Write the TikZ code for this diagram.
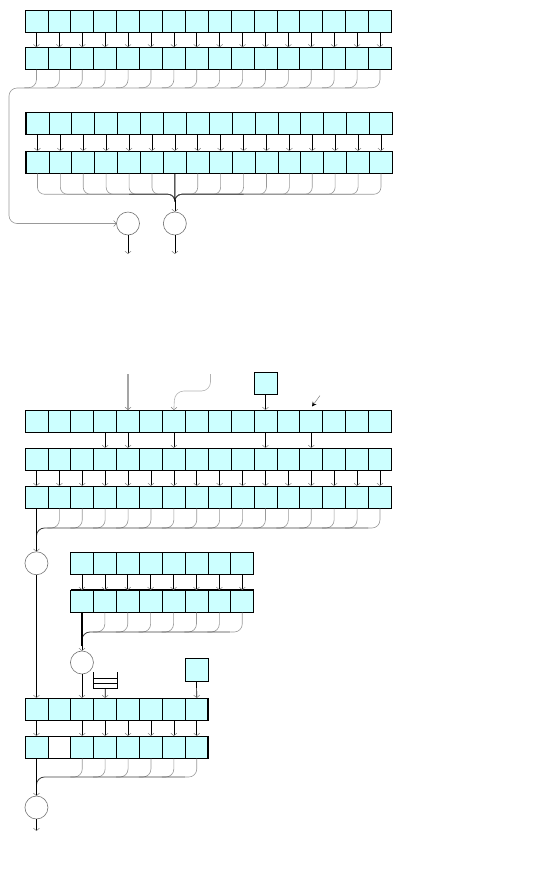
\documentclass[tikz,border=0pt]{standalone}
\usetikzlibrary{arrows.meta}
\definecolor{cellc}{HTML}{CCFFFF}
\begin{document}
\begin{tikzpicture}[x=1pt,y=-1pt,
 cell/.style={draw=black,line width=0.8pt,fill=cellc,minimum width=22.9pt,minimum height=22.5pt,inner sep=0pt,outer sep=0pt},
 blank/.style={cell,fill=white},
 op/.style={circle,draw=black!55,line width=0.6pt,minimum size=23pt,inner sep=0pt,outer sep=0pt},
 arr/.style={line width=0.7pt,-{Straight Barb[length=2.5pt,width=6pt,color=black!50,line width=0.5pt]}},
 flow/.style={draw=black!40,line width=0.6pt,rounded corners=8pt},
 trunkline/.style={draw=black!75,line width=0.8pt,rounded corners=8pt},
 trunk/.style={line width=1.1pt,black},
 thick edge/.style={line width=1.6pt,black},
]
\useasboundingbox (0,0) rectangle (550,879);

% ---------- upper diagram ----------
\foreach \i in {1,...,16}{
  \node[cell] (ta\i) at ({25+22.9*(\i-0.5)},21.25) {};
  \node[cell] (tb\i) at ({25+22.9*(\i-0.5)},58.5) {};
  \node[cell] (tc\i) at ({26+22.9*(\i-0.5)},123.5) {};
  \node[cell] (td\i) at ({26+22.9*(\i-0.5)},162.25) {};
}
\draw[thick edge] (ta1.south west) -- (ta16.south east);
\draw[thick edge] (tc1.north west) -- (tc1.south west);
\draw[thick edge] (td1.north west) -- (td1.south west);
\foreach \i in {1,...,16}{
  \draw[arr] (ta\i.south) -- (tb\i.north);
  \draw[arr] (tc\i.south) -- (td\i.north);
}
\node[op] (t1) at (128,223.5) {};
\node[op] (t2) at (174.85,223.5) {};
\coordinate (tj) at (368,88);
\coordinate (tm) at (174.85,200);
\coordinate (o1) at (128,254);
\coordinate (o2) at (174.85,254);
\foreach \i in {1,...,16}{
  \draw[flow] (tb\i.south) -- ++(0,18) -- ++(-12,0);
}
\draw[flow,-{Straight Barb[length=2.5pt,width=6pt,color=black!50,line width=0.5pt]}] (tj) -- (9,88) -- (9,223.5) -- (t1.west);
\foreach \i in {1,...,6}{
  \draw[flow,rounded corners=7pt] (td\i.south) -- ++(0,20.75) -| (tm);
}
\foreach \i in {8,...,16}{
  \draw[flow,rounded corners=7pt] (td\i.south) -- ++(0,20.75) -| (tm);
}
\draw[trunkline,rounded corners=7pt] (td5.south) ++(0,20.75) -| (tm);
\draw[trunkline,rounded corners=7pt] (td10.south) ++(0,20.75) -| (tm);
\draw[trunk] (td7.south) -- (tm);
\draw[arr] (tm) -- (t2.north);
\draw[arr] (t1.south) -- (o1);
\draw[arr] (t2.south) -- (o2);

% ---------- lower diagram ----------
\foreach \i in {1,...,16}{
  \node[cell] (la\i) at ({25+22.9*(\i-0.5)},421.25) {};
  \node[cell] (lb\i) at ({25+22.9*(\i-0.5)},459.25) {};
  \node[cell] (lc\i) at ({25+22.9*(\i-0.5)},497.25) {};
}
\node[cell] (sq1) at (265.45,383.5) {};
\coordinate (in1) at (128.05,374);
\coordinate (in2) at (210.5,374);
\coordinate (hs) at (320,395.5);
\coordinate (he) at (312,406.5);
\draw[arr] (in1) -- (la5.north);
\draw[flow,rounded corners=9pt,draw=black!30,-{Straight Barb[length=2.5pt,width=6pt,color=black!50,line width=0.5pt]}] (in2) -- (210.5,391) -- (174.85,391) -- (la7.north);
\draw[arr] (sq1.south) -- (la11.north);
\draw[draw=black!50,line width=0.5pt,-{Stealth[length=4.5pt,width=4.5pt,color=black]}] (hs) -- (he);
\foreach \i in {4,5,7,11,13}{
  \draw[arr] (la\i.south) -- (lb\i.north);
}
\foreach \i in {1,...,16}{
  \draw[arr] (lb\i.south) -- (lc\i.north);
}
\node[op] (A) at (36.45,563.25) {};
\coordinate (lj) at (368,528);
\coordinate (am) at (36.45,546);
\foreach \i in {2,...,16}{
  \draw[flow] (lc\i.south) -- ++(0,19.5) -- ++(-12,0);
}
\draw[trunkline] (lj) -- (36.45,528) -- (am);
\draw[trunk] (lc1.south) -- (am);
\draw[arr] (am) -- (A.north);

% block B
\foreach \i in {1,...,8}{
  \node[cell] (ba\i) at ({70.5+22.9*(\i-0.5)},563.25) {};
  \node[cell] (bb\i) at ({70.5+22.9*(\i-0.5)},601.25) {};
}
\draw[thick edge] (bb1.north west) -- (bb8.north east);
\draw[thick edge] (bb1.south west) -- (bb8.south east);
\foreach \i in {1,...,8}{
  \draw[arr] (ba\i.south) -- (bb\i.north);
}
\node[op] (Bc) at (81.95,662.5) {};
\coordinate (bj) at (230,632);
\coordinate (bm) at (81.95,646);
\foreach \i in {2,...,8}{
  \draw[flow] (bb\i.south) -- ++(0,19.5) -- ++(-12,0);
}
\draw[trunkline] (bj) -- (81.95,632) -- (bm);
\draw[trunk] (bb1.south) -- (bm);
\draw[arr] (bm) -- (Bc.north);

% block C
\foreach \i in {1,...,8}{
  \node[cell] (ca\i) at ({25+22.9*(\i-0.5)},709.25) {};
}
\foreach \i in {1,3,4,5,6,7,8}{
  \node[cell] (cb\i) at ({25+22.9*(\i-0.5)},747.25) {};
}
\node[blank] (cb2) at ({25+22.9*1.5},747.25) {};
\draw[thick edge] (ca1.south west) -- (ca8.south east);
\draw[thick edge] (ca8.north east) -- (ca8.south east);
\draw[thick edge] (cb8.north east) -- (cb8.south east);
\node[cell] (sq2) at (196.5,670) {};
% tray
\draw[line width=0.7pt] (93,672) -- (93,688) -- (117,688) -- (117,672);
\draw[line width=0.7pt] (93,678) -- (117,678);
\draw[line width=0.7pt] (93,683) -- (117,683);
\coordinate (tray) at (105.15,688);
\draw[arr] (tray) -- (ca4.north);
\draw[arr] (sq2.south) -- (ca8.north);
\draw[arr] (A.south) -- (ca1.north);
\draw[arr] (Bc.south) -- (Bc.south |- ca3.north);
\foreach \i in {1,3,4,5,6,7,8}{
  \draw[arr] (ca\i.south) -- (cb\i.north);
}
\node[op] (D) at (36.45,807.5) {};
\coordinate (cj) at (184.75,777);
\coordinate (dm) at (36.45,791);
\coordinate (o3) at (36.45,831);
\foreach \i in {3,...,8}{
  \draw[flow] (cb\i.south) -- ++(0,18.5) -- ++(-12,0);
}
\draw[trunkline] (cj) -- (36.45,777) -- (dm);
\draw[trunk] (cb1.south) -- (dm);
\draw[arr] (dm) -- (D.north);
\draw[arr] (D.south) -- (o3);
\end{tikzpicture}
\end{document}
